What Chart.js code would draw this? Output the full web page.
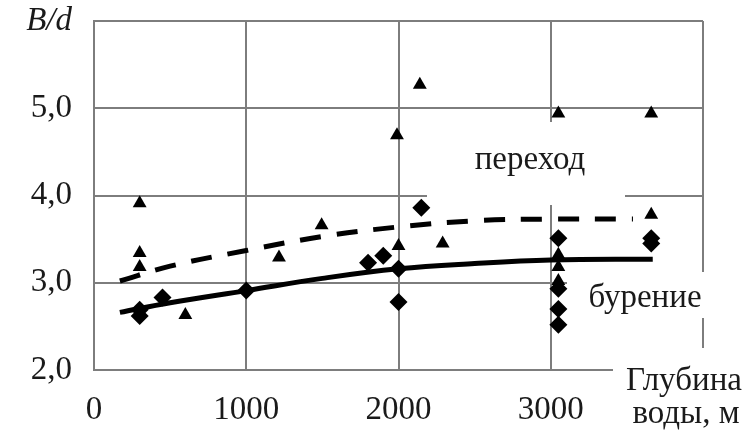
<!DOCTYPE html>
<html>
<head>
<meta charset="utf-8">
<script src="https://cdn.jsdelivr.net/npm/chart.js@4.4.1/dist/chart.umd.min.js"></script>
<style>
  html, body { margin: 0; padding: 0; background: #fff; }
  #wrap { width: 754px; height: 434px; }
</style>
</head>
<body>
<div id="wrap"><canvas id="chart"></canvas></div>
<script>
// Water depth (m) and B/d values
const transitionDepth = [300, 300, 300, 600, 1215, 1495, 1990, 2000, 2140, 2290, 3050, 3050, 3050, 3050, 3660, 3660];
const transitionBd    = [3.91, 3.34, 3.18, 2.63, 3.29, 3.66, 4.69, 3.42, 5.27, 3.45, 4.94, 3.32, 3.18, 3.02, 4.94, 3.78];

const drillingDepth = [300, 300, 450, 1000, 1800, 1900, 2000, 2000, 2150, 3050, 3050, 3050, 3050, 3660, 3660];
const drillingBd    = [2.62, 2.69, 2.83, 2.91, 3.23, 3.31, 3.16, 2.78, 3.86, 3.51, 2.93, 2.70, 2.52, 3.45, 3.51];

// Trend lines
const transitionTrendX = [170, 500, 1000, 1500, 2000, 2500, 3000, 3540];
const transitionTrendY = [3.02, 3.19, 3.37, 3.53, 3.64, 3.71, 3.73, 3.73];
const drillingTrendX   = [170, 500, 1000, 1500, 2000, 2500, 3000, 3670];
const drillingTrendY   = [2.66, 2.77, 2.91, 3.05, 3.16, 3.22, 3.26, 3.27];

const xTicks = [0, 1000, 2000, 3000, 4000];
const yTicks = [2, 3, 4, 5, 6];

const toPoints = (xs, ys) => xs.map((x, i) => ({ x: x, y: ys[i] }));

const serif = "'Liberation Serif', 'DejaVu Serif', serif";
const ink = '#1a1a1a';
const gridColor = '#7d7d7d';

// white boxes with labels sitting on top of the grid
const labelsPlugin = {
    id: 'labels',
    beforeDatasetsDraw(chart) {
        const ctx = chart.ctx;
        ctx.save();
        ctx.fillStyle = '#fff';
        ctx.fillRect(427, 122, 198, 83);   // переход
        ctx.fillRect(567, 272, 160, 46);   // бурение
        ctx.fillRect(613, 348, 141, 86);   // axis title
        ctx.restore();
    },
    afterDraw(chart) {
        const ctx = chart.ctx;
        ctx.save();
        ctx.fillStyle = ink;
        ctx.font = '33px ' + serif;
        ctx.textBaseline = 'middle';
        ctx.textAlign = 'center';
        ctx.fillText('переход', 530, 160);
        ctx.fillText('бурение', 645, 298);
        ctx.fillText('Глубина', 684, 381);
        ctx.fillText('воды, м', 686, 414);
        ctx.restore();
    }
};

// keep the plot area where the figure has it
function noOverhang(axis) {
    axis.paddingTop = 0;
    axis.paddingBottom = 0;
    axis.paddingLeft = 0;
    axis.paddingRight = 0;
}

const ctx = document.getElementById('chart').getContext('2d');
const chart = new Chart(ctx, {
    type: 'scatter',
    data: {
        datasets: [
            {
                label: 'переход (тренд)',
                data: toPoints(transitionTrendX, transitionTrendY),
                showLine: true,
                borderColor: '#000',
                borderWidth: 5,
                borderDash: [21, 16],
                pointRadius: 0,
                tension: 0.4,
                fill: false
            },
            {
                label: 'бурение (тренд)',
                data: toPoints(drillingTrendX, drillingTrendY),
                showLine: true,
                borderColor: '#000',
                borderWidth: 5,
                pointRadius: 0,
                tension: 0.4,
                fill: false
            },
            {
                label: 'переход',
                data: toPoints(transitionDepth, transitionBd),
                pointStyle: 'triangle',
                pointRadius: 8,
                backgroundColor: '#000',
                borderColor: '#000',
                borderWidth: 0
            },
            {
                label: 'бурение',
                data: toPoints(drillingDepth, drillingBd),
                pointStyle: 'rectRot',
                pointRadius: 9,
                backgroundColor: '#000',
                borderColor: '#000',
                borderWidth: 0
            }
        ]
    },
    options: {
        responsive: true,
        maintainAspectRatio: false,
        animation: false,
        layout: {
            padding: { top: 21, right: 51, left: 0, bottom: 0 }
        },
        scales: {
            x: {
                type: 'linear',
                min: 0,
                max: 4000,
                afterBuildTicks: axis => { axis.ticks = xTicks.map(v => ({ value: v })); },
                afterFit: axis => { axis.height = 64; noOverhang(axis); },
                grid: { color: gridColor, lineWidth: 2, drawTicks: false },
                border: { color: gridColor, width: 2 },
                ticks: {
                    color: ink,
                    padding: 21,
                    maxRotation: 0,
                    font: { family: serif, size: 33 },
                    callback: v => v === 4000 ? '' : String(v)
                }
            },
            y: {
                min: 2,
                max: 6,
                afterBuildTicks: axis => { axis.ticks = yTicks.map(v => ({ value: v })); },
                afterFit: axis => { axis.width = 94; noOverhang(axis); },
                grid: { color: gridColor, lineWidth: 2, drawTicks: false },
                border: { color: gridColor, width: 2 },
                ticks: {
                    color: ink,
                    padding: 22,
                    font: c => c.tick && c.tick.value === 6
                        ? { family: serif, size: 33, style: 'italic' }
                        : { family: serif, size: 33 },
                    callback: v => v === 6 ? 'B/d' : v.toFixed(1).replace('.', ',')
                }
            }
        },
        plugins: {
            legend: { display: false },
            tooltip: { enabled: false }
        }
    },
    plugins: [labelsPlugin]
});
</script>
</body>
</html>
